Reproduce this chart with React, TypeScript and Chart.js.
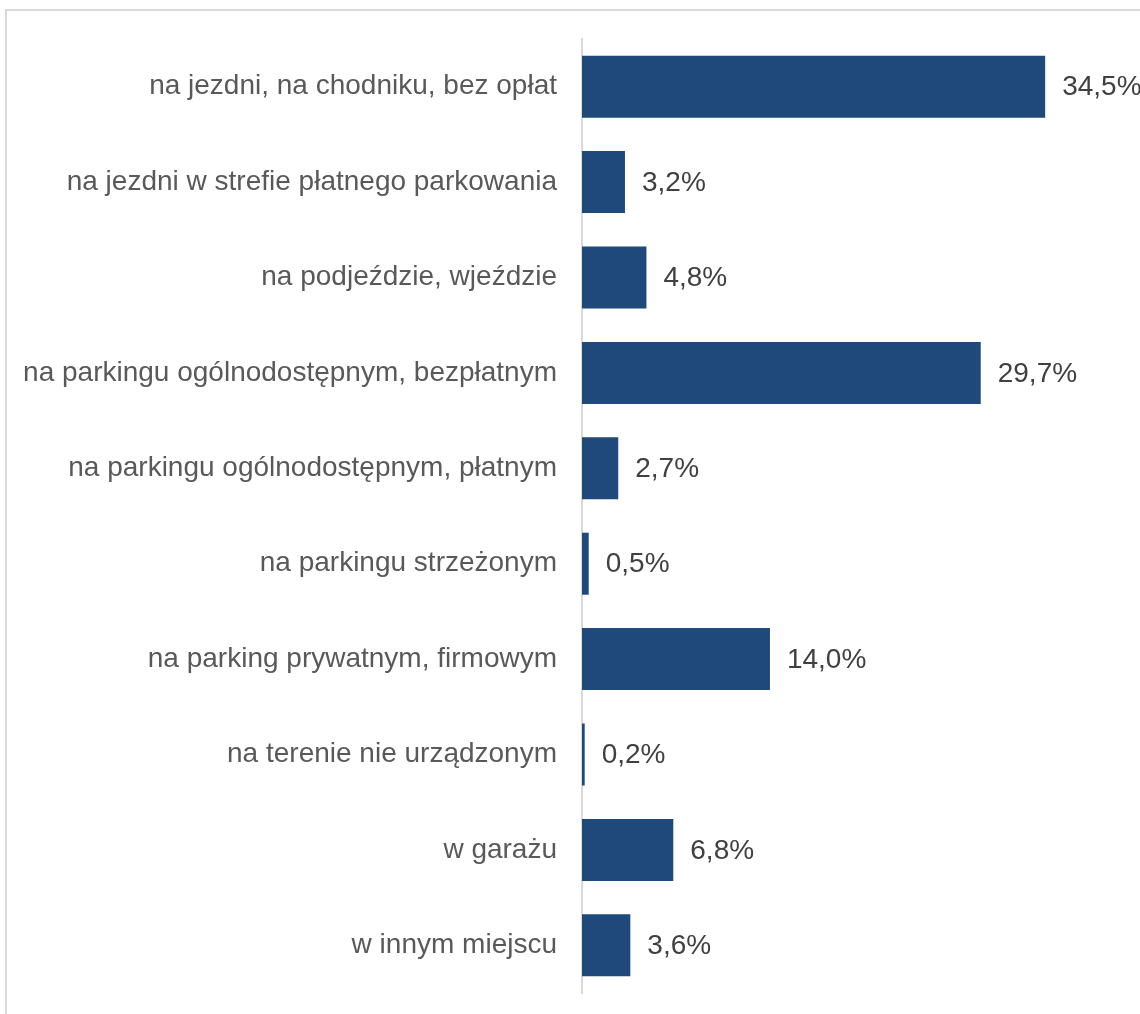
import React, { useEffect, useRef } from "react";
import { Chart, registerables } from "chart.js";

Chart.register(...registerables);

const categories = [
  "na jezdni, na chodniku, bez opłat",
  "na jezdni w strefie płatnego parkowania",
  "na podjeździe, wjeździe",
  "na parkingu ogólnodostępnym, bezpłatnym",
  "na parkingu ogólnodostępnym, płatnym",
  "na parkingu strzeżonym",
  "na parking prywatnym, firmowym",
  "na terenie nie urządzonym",
  "w garażu",
  "w innym miejscu",
];

const shares = [34.5, 3.2, 4.8, 29.7, 2.7, 0.5, 14.0, 0.2, 6.8, 3.6];

const FONT = "'Liberation Sans', Arial, sans-serif";

const framePlugin = {
  id: "frame",
  beforeDraw(chart: any) {
    const ctx = chart.ctx;
    ctx.save();
    ctx.fillStyle = "#ffffff";
    ctx.fillRect(0, 0, chart.width, chart.height);
    ctx.strokeStyle = "#d9d9d9";
    ctx.lineWidth = 2;
    ctx.beginPath();
    ctx.moveTo(6, chart.height + 5);
    ctx.lineTo(6, 10);
    ctx.lineTo(chart.width + 5, 10);
    ctx.stroke();
    ctx.restore();
  },
};

const valueLabelPlugin = {
  id: "valueLabels",
  afterDatasetsDraw(chart: any) {
    const ctx = chart.ctx;
    const meta = chart.getDatasetMeta(0);
    ctx.save();
    ctx.font = `28px ${FONT}`;
    ctx.fillStyle = "#404040";
    ctx.textAlign = "left";
    ctx.textBaseline = "middle";
    meta.data.forEach((bar: any, i: number) => {
      const v = shares[i];
      const txt = v.toFixed(1).replace(".", ",") + "%";
      ctx.fillText(txt, bar.x + 17, bar.y + 1);
    });
    ctx.restore();
  },
};

export default function App() {
  const ref = useRef<HTMLCanvasElement | null>(null);

  useEffect(() => {
    if (!ref.current) return;
    const chart = new Chart(ref.current, {
      type: "bar",
      data: {
        labels: categories,
        datasets: [
          {
            data: shares,
            backgroundColor: "#1F497A",
            borderWidth: 0,
            barPercentage: 0.65,
            categoryPercentage: 1,
          },
        ],
      },
      options: {
        indexAxis: "y",
        animation: false,
        responsive: false,
        maintainAspectRatio: false,
        layout: { padding: { left: 0, right: 21, top: 39, bottom: 21 } },
        plugins: {
          legend: { display: false },
          tooltip: { enabled: false },
          title: { display: false },
        },
        scales: {
          x: {
            display: false,
            min: 0,
            max: 40,
          },
          y: {
            afterFit(scale: any) {
              scale.width = 582;
            },
            grid: {
              display: true,
              drawOnChartArea: false,
              drawTicks: true,
              tickLength: 25,
              color: "transparent",
              tickColor: "transparent",
            },
            border: { display: true, color: "#d9d9d9", width: 2 },
            ticks: {
              padding: 0,
              color: "#595959",
              font: { family: FONT, size: 28 },
            },
          },
        },
      },
      plugins: [framePlugin, valueLabelPlugin],
    });
    return () => chart.destroy();
  }, []);

  return (
    <div style={{ position: "fixed", left: 0, top: 0, width: 1140, height: 1014, overflow: "hidden", background: "#fff" }}>
      <canvas ref={ref} width={1140} height={1014} style={{ display: "block" }} />
    </div>
  );
}
